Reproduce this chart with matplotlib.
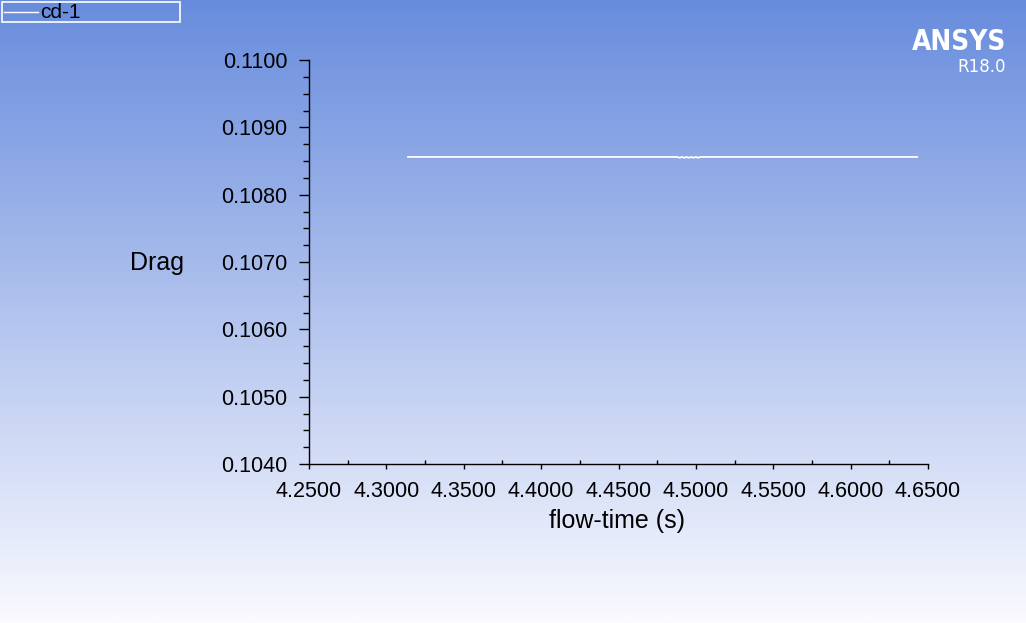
import numpy as np
import matplotlib
matplotlib.use("Agg")
import matplotlib.pyplot as plt
from matplotlib.ticker import MultipleLocator, FormatStrFormatter

plt.rcParams['font.family'] = ['Liberation Sans', 'DejaVu Sans']

# cd-1 monitor: drag coefficient vs flow time
flow_time = [4.3140, 4.4880, 4.4895, 4.4910, 4.4925, 4.4940, 4.4955, 4.4970,
             4.4985, 4.5000, 4.5015, 4.5030, 4.6430]
drag = [0.108560, 0.108560, 0.108548, 0.108560, 0.108548, 0.108560, 0.108548,
        0.108560, 0.108548, 0.108560, 0.108548, 0.108560, 0.108560]

x_ticks = [4.25, 4.30, 4.35, 4.40, 4.45, 4.50, 4.55, 4.60, 4.65]
y_ticks = [0.1040, 0.1050, 0.1060, 0.1070, 0.1080, 0.1090, 0.1100]

W, H = 1026, 623
fig = plt.figure(figsize=(W / 100, H / 100), dpi=100)

# background gradient, blue at top fading to white
bg = fig.add_axes([0, 0, 1, 1], zorder=0)
top = np.array([104, 140, 221]) / 255
bot = np.array([250, 250, 255]) / 255
t = np.linspace(0, 1, 256)[:, None]
grad = top * (1 - t) + bot * t
bg.imshow(grad[:, None, :].repeat(2, axis=1), aspect='auto', extent=[0, 1, 0, 1])
bg.set_axis_off()

ax = fig.add_axes([309 / W, 1 - 464 / H, (928 - 309) / W, (464 - 60) / H], zorder=1)
ax.set_facecolor('none')
ax.plot(flow_time, drag, color='white', lw=1.3)

ax.set_xlim(4.25, 4.65)
ax.set_ylim(0.1040, 0.1100)
ax.set_xticks(x_ticks)
ax.set_yticks(y_ticks)
ax.xaxis.set_major_formatter(FormatStrFormatter('%.4f'))
ax.yaxis.set_major_formatter(FormatStrFormatter('%.4f'))
ax.xaxis.set_minor_locator(MultipleLocator(0.025))
ax.yaxis.set_minor_locator(MultipleLocator(0.00025))
ax.tick_params(axis='x', which='major', direction='out', length=3.5, width=1, labelsize=15.5, pad=9)
ax.tick_params(axis='x', which='minor', direction='in', length=3, width=1)
ax.tick_params(axis='y', which='major', direction='out', length=7, width=1, labelsize=15.5, pad=8.5)
ax.tick_params(axis='y', which='minor', direction='out', length=4.5, width=1)
for s in ['top', 'right']:
    ax.spines[s].set_visible(False)
for s in ['left', 'bottom']:
    ax.spines[s].set_linewidth(1)

fig.text(157 / W, 1 - 263 / H, 'Drag', fontsize=18, ha='center', va='center')
fig.text(617 / W, 1 - 521 / H, 'flow-time (s)', fontsize=18, ha='center', va='center')

# legend box
fig.patches.append(plt.Rectangle((2 / W, 1 - 22 / H), 178 / W, 20 / H, transform=fig.transFigure,
                                 fill=False, edgecolor='white', lw=1.2))
fig.lines.append(plt.Line2D([4 / W, 38 / W], [1 - 12 / H, 1 - 12 / H], transform=fig.transFigure,
                            color='white', lw=1))
fig.text(40 / W, 1 - 12 / H, 'cd-1', fontsize=15, ha='left', va='center')

# logo
fig.text(1006 / W, 1 - 42 / H, 'ANSYS', fontsize=20, fontweight='bold', color='white',
         ha='right', va='center', family=['DejaVu Sans'], fontstretch='condensed')
fig.text(1006 / W, 1 - 67 / H, 'R18.0', fontsize=12, color='white', ha='right', va='center',
         family=['DejaVu Sans'])

fig.savefig('out.png', dpi=100)
